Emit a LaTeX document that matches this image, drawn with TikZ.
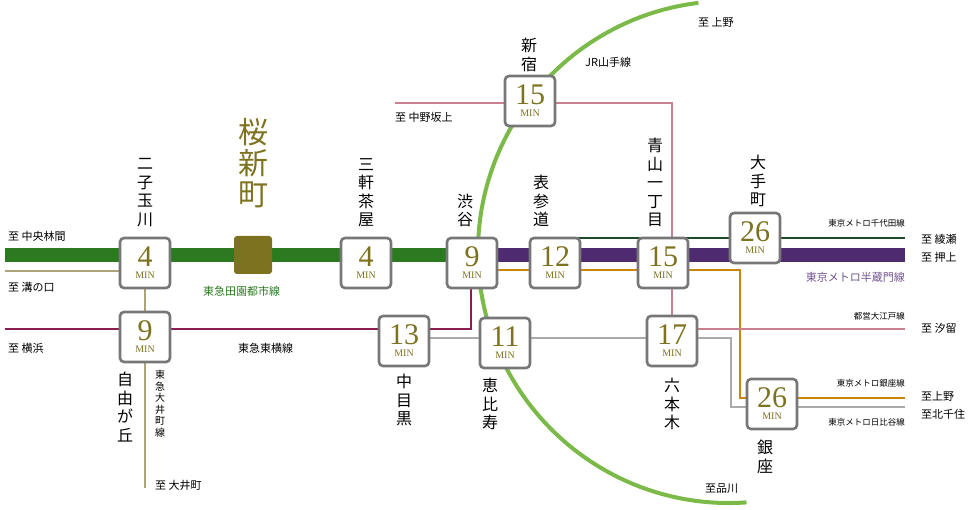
\documentclass[tikz,border=0pt]{standalone}
\usepackage{fontspec}
\newfontfamily\jp{Noto Sans CJK JP}
\newfontfamily\num{Liberation Serif}
\usetikzlibrary{backgrounds}
\definecolor{dgreen}{HTML}{2B7A1F}
\definecolor{purp}{HTML}{4E2A70}
\definecolor{chiy}{HTML}{1E4A2A}
\definecolor{gin}{HTML}{C8860A}
\definecolor{hib}{HTML}{AAAAAA}
\definecolor{oedo}{HTML}{CC7F8E}
\definecolor{toyo}{HTML}{8A1E4E}
\definecolor{oim}{HTML}{ACA57A}
\definecolor{jr}{HTML}{7BBA48}
\definecolor{olive}{HTML}{7D7220}
\definecolor{boxc}{HTML}{777777}
\tikzset{
 stbox/.style={draw=boxc,line width=2.6pt,rounded corners=4pt,fill=white,minimum width=50pt,minimum height=50pt,inner sep=0pt,align=center,font=\num,text=olive},
 lbl/.style={font=\jp\fontsize{11}{12}\selectfont,inner sep=0pt},
 sm/.style={font=\jp\fontsize{8.5}{9}\selectfont,inner sep=0pt},
 vt/.style={font=\jp\fontsize{16}{18.5}\selectfont,align=center,inner sep=0pt},
}
\newcommand{\mybox}[3]{\node[stbox] (#1) at (#2) {\fontsize{30}{27}\selectfont #3\\[0pt]\fontsize{10}{10}\selectfont MIN};}
\begin{document}
\begin{tikzpicture}[x=1pt,y=-1pt]
\useasboundingbox (0,0) rectangle (980,510);
\coordinate (jrc) at (729,252);
\begin{scope}
\clip (0,0) rectangle (980,510);
\draw[jr,line width=4pt] (jrc) ++(86:251) arc[start angle=86,end angle=263,radius=251];
\end{scope}
% boxes
\mybox{fut}{145,263}{4}
\mybox{jiy}{145,337}{9}
\mybox{san}{366,263}{4}
\mybox{shib}{472,263}{9}
\mybox{omo}{555,263}{12}
\mybox{aoy}{663,263}{15}
\mybox{ote}{755,238}{26}
\mybox{naka}{404,341}{13}
\mybox{ebi}{505,343}{11}
\mybox{rop}{672,341}{17}
\mybox{gin}{772,404}{26}
\mybox{shin}{530,101}{15}
\node[fill=olive,rounded corners=3pt,minimum size=38pt] (sak) at (253,255) {};
\begin{scope}[on background layer]
\coordinate (wL) at (5,255); \coordinate (eR) at (905,255);
\draw[dgreen,line width=14pt] (wL) -- (shib.center|-wL);
\draw[purp,line width=14pt] (shib.center|-wL) -- (eR);
\draw[chiy,line width=2pt] (omo.center) ++(0,-25) -- (905,238);
\draw[gin,line width=2pt] (shib.center) ++(0,7) -- (740,270) -- (740,398) -- (905,398);
\draw[hib,line width=2pt] (naka.center) ++(0,-3) -- (731,338) -- (731,407) -- (905,407);
\draw[oedo,line width=2pt] (395,103) -- (530,103) -- (672,103) -- (rop.center);
\draw[oedo,line width=2pt] (rop.center) ++(0,-12) -- (905,329);
\draw[toyo,line width=2pt] (5,329) -- (471,329) -- (471,263);
\coordinate (oimW) at (5,271);
\draw[oim,line width=2pt] (oimW) -- (fut.center|-oimW);
\draw[oim,line width=2pt] (fut.center) -- (145,488);
\end{scope}
% labels
\node[lbl,anchor=west] at (8,236) {至 中央林間};
\node[lbl,anchor=west] at (8,287) {至 溝の口};
\node[lbl,anchor=west] at (8,348) {至 横浜};
\node[lbl,anchor=west] at (155,485) {至 大井町};
\node[lbl,anchor=west] at (395,117) {至 中野坂上};
\node[lbl,anchor=west] at (698,22) {至 上野};
\node[lbl,anchor=west] at (585,62) {JR山手線};
\node[lbl,anchor=west] at (238,348) {東急東横線};
\node[lbl,anchor=west,dgreen] at (203,291) {東急田園都市線};
\node[lbl,anchor=west] at (705,489) {至品川};
\node[sm,anchor=east] at (905,223) {東京メトロ千代田線};
\node[lbl,anchor=east,purp!80!white] at (905,277) {東京メトロ半蔵門線};
\node[sm,anchor=east] at (905,316) {都営大江戸線};
\node[sm,anchor=east] at (905,383) {東京メトロ銀座線};
\node[sm,anchor=east] at (905,422) {東京メトロ日比谷線};
\node[lbl,anchor=west] at (921,239) {至 綾瀬};
\node[lbl,anchor=west] at (921,257) {至 押上};
\node[lbl,anchor=west] at (921,328) {至 汐留};
\node[lbl,anchor=west] at (921,396) {至上野};
\node[lbl,anchor=west] at (921,414) {至北千住};
\node[vt,anchor=south] at (145,227) {二\\子\\玉\\川};
\node[vt,anchor=south] at (366,227) {三\\軒\\茶\\屋};
\node[vt,anchor=south] at (465,227) {渋\\谷};
\node[vt,anchor=south] at (541,227) {表\\参\\道};
\node[vt,anchor=south] at (655,227) {青\\山\\一\\丁\\目};
\node[vt,anchor=south] at (758,207) {大\\手\\町};
\node[vt,anchor=south] at (529,72) {新\\宿};
\node[vt,anchor=north] at (125,372) {自\\由\\が\\丘};
\node[vt,anchor=north] at (404,374) {中\\目\\黒};
\node[vt,anchor=north] at (490,378) {恵\\比\\寿};
\node[vt,anchor=north] at (672,378) {六\\本\\木};
\node[vt,anchor=north] at (765,440) {銀\\座};
\node[font=\jp\fontsize{10}{11.5}\selectfont,align=center,inner sep=0pt,anchor=north] at (160,370) {東\\急\\大\\井\\町\\線};
\node[font=\jp\fontsize{30}{31}\selectfont,align=center,inner sep=0pt,anchor=south,olive] at (253,208) {桜\\新\\町};
\end{tikzpicture}
\end{document}
